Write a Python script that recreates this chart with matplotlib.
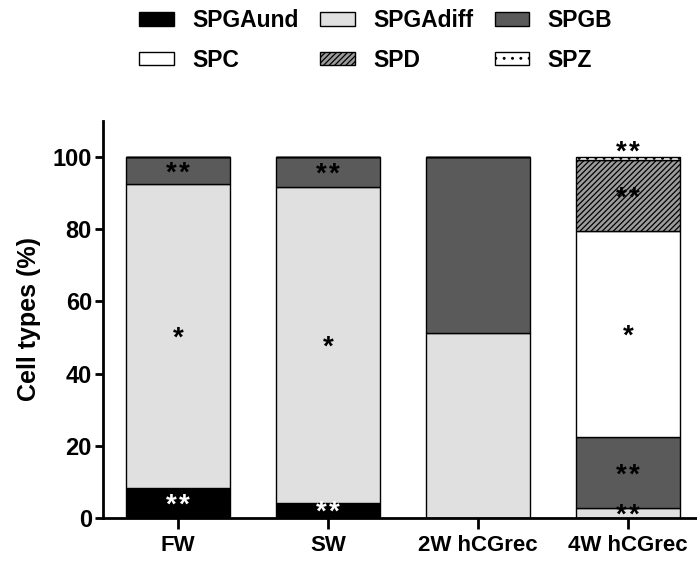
import matplotlib
matplotlib.use("Agg")
import matplotlib.pyplot as plt
from matplotlib.patches import Patch
import numpy as np

plt.rcParams['font.family'] = ['Liberation Sans', 'DejaVu Sans']
plt.rcParams['hatch.linewidth'] = 0.9

groups = ["FW", "SW", "2W hCGrec", "4W hCGrec"]
series = ["SPGAund", "SPGAdiff", "SPGB", "SPC", "SPD", "SPZ"]
SPGAund = [8.3, 4.2, 0.0, 0.0]
SPGAdiff = [84.2, 87.5, 51.3, 2.8]
SPGB = [7.5, 8.3, 48.7, 19.6]
SPC = [0.0, 0.0, 0.0, 57.1]
SPD = [0.0, 0.0, 0.0, 19.7]
SPZ = [0.0, 0.0, 0.0, 0.8]
values = [SPGAund, SPGAdiff, SPGB, SPC, SPD, SPZ]

# significance marks per series per group
marks_SPGAund = ["**", "**", "", ""]
marks_SPGAdiff = ["*", "*", "", "**"]
marks_SPGB = ["**", "**", "", "**"]
marks_SPC = ["", "", "", "*"]
marks_SPD = ["", "", "", "**"]
marks_SPZ = ["", "", "", "**"]
marks = [marks_SPGAund, marks_SPGAdiff, marks_SPGB, marks_SPC, marks_SPD, marks_SPZ]

colors = ["#000000", "#e0e0e0", "#5a5a5a", "#ffffff", "#9c9c9c", "#ffffff"]
hatches = [None, None, None, None, "//////", ".."]
mark_colors = ["white", "black", "black", "black", "black", "black"]

fig = plt.figure(figsize=(6.97, 5.64), dpi=100)
ax = fig.add_axes([0.1478, 0.0816, 0.861, 0.704])

star_fs = 20
star_pitch = 9.4  # points between two stars
x = np.arange(len(groups))
bottom = np.zeros(len(groups))
for s, vals, c, h, mk, mc in zip(series, values, colors, hatches, marks, mark_colors):
    vals = np.array(vals)
    ax.bar(x, vals, width=0.69, bottom=bottom, color=c, edgecolor="black",
           linewidth=1.0, hatch=h, label=s, zorder=2)
    for i in range(len(groups)):
        n = len(mk[i])
        if n:
            yc = bottom[i] + vals[i] / 2
            if s == "SPZ":
                yc = bottom[i] + vals[i] + 2.0
            for k in range(n):
                dx = (k - (n - 1) / 2) * star_pitch
                ax.annotate("*", xy=(x[i], yc), xytext=(dx, -0.35 * star_fs),
                            textcoords="offset points", ha="center", va="baseline",
                            color=mc, fontsize=star_fs, fontweight="bold", zorder=3)
    bottom = bottom + vals

ax.set_xlim(-0.5, 3.5)
ax.set_ylim(0, 110)
ax.set_yticks([0, 20, 40, 60, 80, 100])
ax.set_xticks(x)
ax.set_xticklabels(groups, fontsize=16, fontweight="bold")
for lab in ax.get_yticklabels():
    lab.set_fontsize(17)
    lab.set_fontweight("bold")
ax.set_ylabel("Cell types (%)", fontsize=18, fontweight="bold", labelpad=8)
ax.spines["top"].set_visible(False)
ax.spines["right"].set_visible(False)
ax.spines["left"].set_linewidth(2)
ax.spines["bottom"].set_linewidth(2)
ax.tick_params(axis="y", width=2, length=6, pad=2)
ax.tick_params(axis="x", width=2, length=8, pad=4)

handles = [Patch(facecolor=c, edgecolor="black", hatch=h, linewidth=1.0)
           for c, h in zip(colors, hatches)]
order = [0, 3, 1, 4, 2, 5]  # row-major display in a 3-column legend
fig.legend([handles[k] for k in order], [series[k] for k in order],
           loc="upper left", bbox_to_anchor=(0.2, 0.984), ncol=3,
           frameon=False, prop={"size": 16.5, "weight": "bold"},
           borderpad=0, borderaxespad=0,
           handlelength=1.5, handleheight=0.55, handletextpad=0.8,
           columnspacing=0.95, labelspacing=0.72)

fig.savefig("out.png", dpi=100)
